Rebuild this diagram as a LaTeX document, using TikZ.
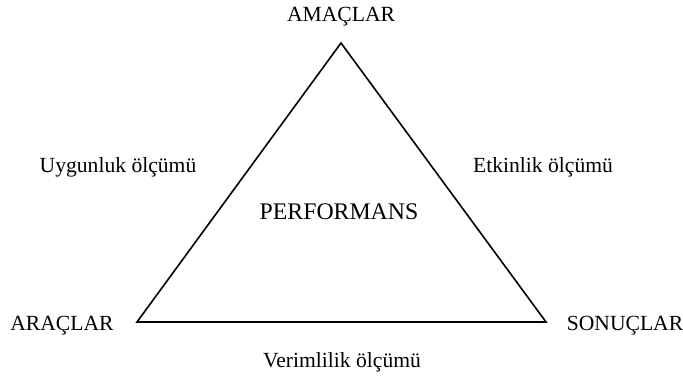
\documentclass[tikz,border=0pt]{standalone}
\usepackage{fontspec}
\setmainfont{Liberation Serif}
\usepackage{tikz}

\begin{document}
\begin{tikzpicture}[
      x=0.5pt, y=0.5pt,
      lbl/.style={font=\fontsize{10.8}{13}\selectfont, inner sep=0pt},
      biglbl/.style={font=\fontsize{11.9}{14}\selectfont, inner sep=0pt},
      edge/.style={draw=black, line width=0.8pt, line join=miter}
    ]
    \useasboundingbox (0,0) rectangle (683,378);

    \coordinate (top) at (341,335);
    \coordinate (left) at (137,56);
    \coordinate (right) at (546,56);
    \draw[edge] (top) -- (left) -- (right) -- cycle;

    \node[lbl] (amaclar) at (341,361) {AMAÇLAR};
    \node[lbl] (araclar) at (62,52) {ARAÇLAR};
    \node[lbl] (sonuclar) at (625,52) {SONUÇLAR};
    \node[biglbl] (perf) at (339,166) {PERFORMANS};

    \node[lbl] (uygun) at (118,211) {Uygunluk ölçümü};
    \node[lbl] (etkin) at (543,211) {Etkinlik ölçümü};
    \node[lbl] (verim) at (342,16) {Verimlilik ölçümü};
  \end{tikzpicture}
\end{document}
